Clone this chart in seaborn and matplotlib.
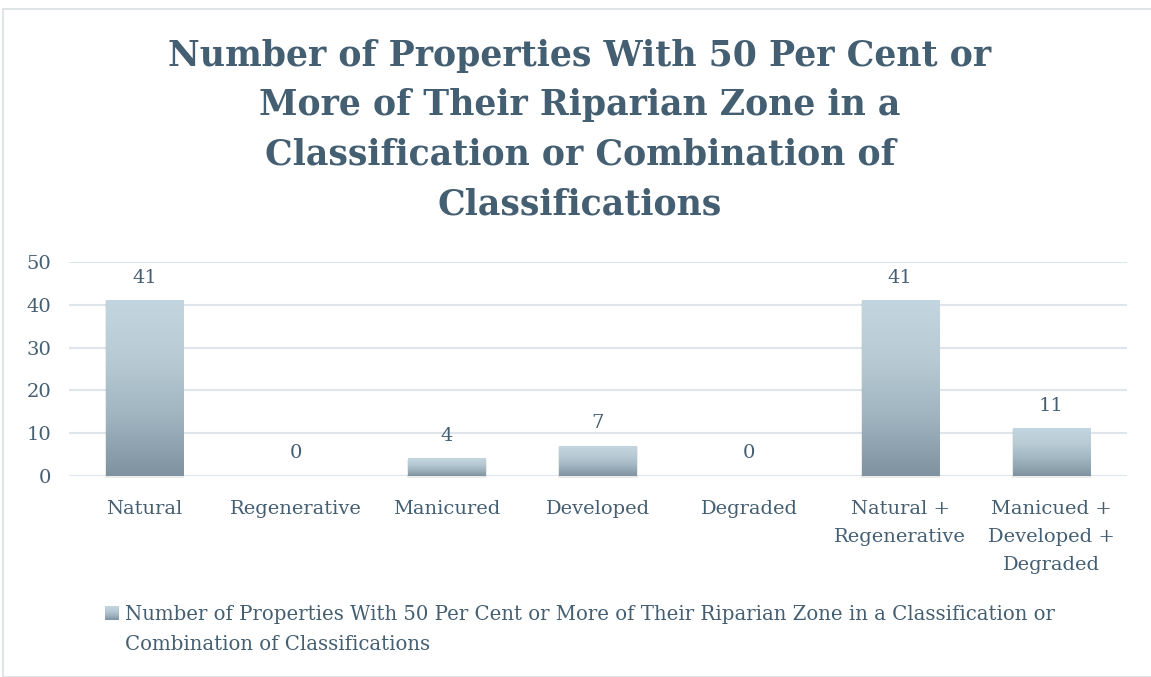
import numpy as np
import matplotlib
matplotlib.use("Agg")
import matplotlib.pyplot as plt
import seaborn as sns
from matplotlib.colors import LinearSegmentedColormap
from matplotlib.patches import Rectangle

categories = ["Natural", "Regenerative", "Manicured", "Developed", "Degraded",
              "Natural +\nRegenerative", "Manicued +\nDeveloped +\nDegraded"]
values = [41, 0, 4, 7, 0, 41, 11]
title = ("Number of Properties With 50 Per Cent or\nMore of Their Riparian Zone in a\n"
         "Classification or Combination of\nClassifications")
series_name = ("Number of Properties With 50 Per Cent or More of Their Riparian Zone in a Classification or\n"
               "Combination of Classifications")

sns.set_theme(style="white")
plt.rcParams["font.family"] = ["DejaVu Serif"]
txt = "#455f72"
grid_c = "#dfe6eb"

W, H = 1151, 677
fig = plt.figure(figsize=(W / 100, H / 100), dpi=100)
fig.patches.append(Rectangle((3 / W, 0), 1.2, 1 - 9 / H, transform=fig.transFigure,
                             fill=False, edgecolor="#d9dfe3", linewidth=1.2))

ax = fig.add_axes([69 / W, (H - 476) / H, (1127 - 69) / W, 214 / H])
sns.barplot(x=categories, y=values, color="#a3b8c3", width=0.51, ax=ax)

cmap = LinearSegmentedColormap.from_list("bar", ["#7e939f", "#9fb4bf", "#b8cbd5", "#c3d6df"])
grad = np.linspace(0, 1, 256).reshape(-1, 1)
for p in ax.patches:
    x0, w, h = p.get_x(), p.get_width(), p.get_height()
    p.set_visible(False)
    if h <= 0:
        continue
    # soft shadow
    ax.add_patch(Rectangle((x0 - 0.008, -0.4), w + 0.016, h + 0.25, facecolor="#000000",
                           alpha=0.08, edgecolor="none", zorder=1.5, clip_on=False))
    ax.imshow(grad, extent=[x0, x0 + w, 0, h], origin="lower", cmap=cmap,
              aspect="auto", zorder=2)

for i, v in enumerate(values):
    ax.annotate(str(v), (i, v), xytext=(0, 10), textcoords="offset points",
                ha="center", va="bottom", fontsize=14, color=txt)

ax.set_ylim(0, 50)
ax.set_xlim(-0.5, 6.5)
ax.set_yticks(range(0, 51, 10))
ax.yaxis.grid(True, color=grid_c, linewidth=1.5)
ax.set_axisbelow(True)
for s in ax.spines.values():
    s.set_visible(False)
ax.tick_params(axis="both", length=0, labelsize=14, labelcolor=txt)
ax.tick_params(axis="y", pad=13)
ax.tick_params(axis="x", pad=17)
for lab in ax.get_xticklabels():
    lab.set_linespacing(1.72)

fig.text(580 / W, 1 - 39 / H, title, ha="center", va="top", fontsize=25,
         fontweight="bold", color=txt, linespacing=1.57)

# legend key with the same gradient
kax = fig.add_axes([105 / W, 1 - 620 / H, 14 / W, 14 / H])
kax.imshow(grad, origin="lower", cmap=cmap, aspect="auto")
kax.set_axis_off()
fig.text(125 / W, 1 - 605 / H, series_name, ha="left", va="top", fontsize=14.25,
         color=txt, linespacing=1.72)

fig.savefig("out.png", dpi=100)
